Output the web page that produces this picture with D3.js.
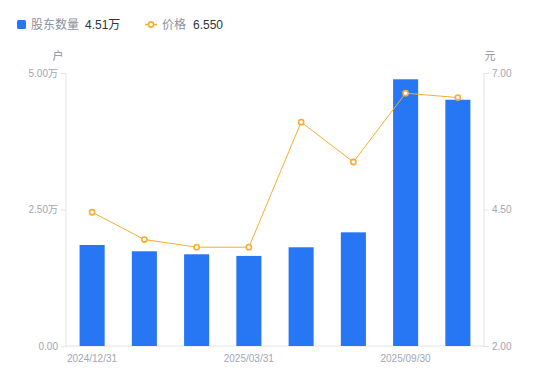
<!DOCTYPE html>
<html>
<head>
<meta charset="utf-8">
<script src="https://cdn.jsdelivr.net/npm/d3@7"></script>
<style>
  body { margin: 0; background: #fff; }
  #chart { width: 550px; height: 381px; }
  text { font-family: "Liberation Sans", "Noto Sans CJK SC", sans-serif; }
</style>
</head>
<body>
<div id="chart"></div>
<script>
    // data
    const dates = ["2024/12/31", "2025/01/31", "2025/02/28", "2025/03/31", "2025/04/30", "2025/06/30", "2025/09/30", "2025/10/31"];
    const holders = [18500, 17350, 16800, 16500, 18080, 20820, 48850, 45100];
    const prices = [4.45, 3.95, 3.81, 3.81, 6.10, 5.37, 6.63, 6.55];
    const leftTicks = [0, 25000, 50000];
    const rightTicks = [2.0, 4.5, 7.0];
    const labelIdx = [0, 3, 6];

    const barColor = "#2777f5";
    const lineColor = "#f7ac34";
    const axisColor = "#e3e4ea";
    const tickColor = "#a2a5b6";

    const margin = { top: 73, right: 66, bottom: 35, left: 66 };
    const width = 550 - margin.left - margin.right;
    const height = 381 - margin.top - margin.bottom;

    const root = d3.select("#chart").append("svg")
        .attr("width", 550)
        .attr("height", 381);

    const svg = root.append("g")
        .attr("transform", `translate(${margin.left},${margin.top})`);

    // scales
    const x = d3.scaleBand()
        .domain(dates)
        .range([0, width])
        .padding(0);
    const barW = x.bandwidth() * 0.48;

    const yL = d3.scaleLinear().domain([0, 50000]).range([height, 0]);
    const yR = d3.scaleLinear().domain([2, 7]).range([height, 0]);

    // axes lines
    svg.append("line")
        .attr("x1", 0).attr("x2", 0).attr("y1", 0).attr("y2", height)
        .style("stroke", axisColor);
    svg.append("line")
        .attr("x1", width).attr("x2", width).attr("y1", 0).attr("y2", height)
        .style("stroke", axisColor);
    svg.append("line")
        .attr("x1", 0).attr("x2", width).attr("y1", height).attr("y2", height)
        .style("stroke", axisColor);

    // left axis
    svg.append("g")
        .call(d3.axisLeft(yL)
            .tickValues(leftTicks)
            .tickSize(5)
            .tickPadding(3)
            .tickFormat(d => d === 0 ? "0.00" : (d / 10000).toFixed(2) + "万"))
        .call(g => g.select(".domain").remove())
        .call(g => g.selectAll("line").style("stroke", axisColor))
        .call(g => g.selectAll("text").style("fill", tickColor).style("font-size", "10px"));

    // right axis
    svg.append("g")
        .attr("transform", `translate(${width},0)`)
        .call(d3.axisRight(yR)
            .tickValues(rightTicks)
            .tickSize(5)
            .tickPadding(3)
            .tickFormat(d => d.toFixed(2)))
        .call(g => g.select(".domain").remove())
        .call(g => g.selectAll("line").style("stroke", axisColor))
        .call(g => g.selectAll("text").style("fill", tickColor).style("font-size", "10px"));

    // unit labels
    svg.append("text")
        .attr("x", -8).attr("y", -13)
        .attr("text-anchor", "middle")
        .style("fill", "#8c909f").style("font-size", "11px")
        .text("户");
    svg.append("text")
        .attr("x", width + 6).attr("y", -13)
        .attr("text-anchor", "middle")
        .style("fill", "#8c909f").style("font-size", "11px")
        .text("元");

    // x labels, left-aligned on band start
    svg.selectAll(".xLabel")
        .data(labelIdx)
        .enter()
        .append("text")
            .attr("class", "xLabel")
            .attr("x", i => x(dates[i]) + 1)
            .attr("y", height + 16)
            .attr("text-anchor", "start")
            .style("fill", tickColor)
            .style("font-size", "10px")
            .text(i => dates[i]);

    // bars
    svg.selectAll(".bar")
        .data(dates)
        .enter()
        .append("rect")
            .attr("class", "bar")
            .attr("x", (d, i) => x(d) + (x.bandwidth() - barW) / 2)
            .attr("y", (d, i) => yL(holders[i]))
            .attr("width", barW)
            .attr("height", (d, i) => height - yL(holders[i]))
            .style("fill", barColor);

    // price line
    const line = d3.line()
        .x((d, i) => x(dates[i]) + x.bandwidth() / 2)
        .y(d => yR(d));
    svg.append("path")
        .datum(prices)
        .attr("d", line)
        .style("fill", "none")
        .style("stroke", lineColor)
        .style("stroke-width", 1);

    svg.selectAll(".pt")
        .data(prices)
        .enter()
        .append("circle")
            .attr("class", "pt")
            .attr("cx", (d, i) => x(dates[i]) + x.bandwidth() / 2)
            .attr("cy", d => yR(d))
            .attr("r", 2.6)
            .style("fill", "#fff")
            .style("stroke", lineColor)
            .style("stroke-width", 1.6);

    // legend
    const lg = root.append("g");
    lg.append("rect")
        .attr("x", 17).attr("y", 20).attr("width", 9).attr("height", 9).attr("rx", 1.5)
        .style("fill", barColor);
    lg.append("text")
        .attr("x", 31).attr("y", 29)
        .style("fill", "#8c909f").style("font-size", "12px")
        .text("股东数量");
    lg.append("text")
        .attr("x", 85).attr("y", 29)
        .style("fill", "#333").style("font-size", "12px")
        .text((holders[holders.length - 1] / 10000).toFixed(2) + "万");

    lg.append("line")
        .attr("x1", 145).attr("x2", 157).attr("y1", 24.5).attr("y2", 24.5)
        .style("stroke", lineColor).style("stroke-width", 1.5);
    lg.append("circle")
        .attr("cx", 151).attr("cy", 24.5).attr("r", 2.6)
        .style("fill", "#fff").style("stroke", lineColor).style("stroke-width", 1.6);
    lg.append("text")
        .attr("x", 162).attr("y", 29)
        .style("fill", "#8c909f").style("font-size", "12px")
        .text("价格");
    lg.append("text")
        .attr("x", 193).attr("y", 29)
        .style("fill", "#333").style("font-size", "12px")
        .text(prices[prices.length - 1].toFixed(3));
</script>
</body>
</html>
